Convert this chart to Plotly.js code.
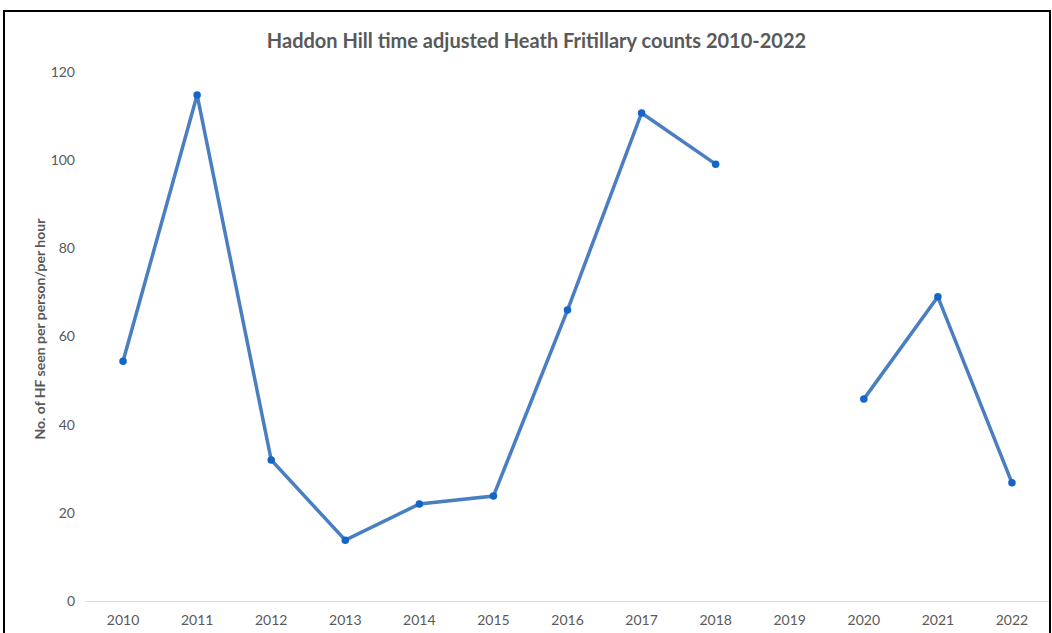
<!DOCTYPE html>
<html>
<head>
<meta charset="utf-8">
<script src="https://cdn.plot.ly/plotly-3.0.1.min.js"></script>
<style>
  html, body { margin: 0; padding: 0; background: #fff; }
  #chart { width: 1052px; height: 633px; }
  #frame { position: absolute; left: 3px; top: 10px; width: 1044px; height: 700px;
           border: 2px solid #000; border-bottom: none; pointer-events: none; }
</style>
</head>
<body>
<div id="chart"></div>
<div id="frame"></div>
<script>
const years = ["2010","2011","2012","2013","2014","2015","2016","2017","2018","2019","2020","2021","2022"];
const counts = [54.4, 114.8, 32.0, 13.8, 22.0, 23.8, 66.0, 110.7, 99.1, null, 45.8, 69.0, 26.8];
const yTicks = [0, 20, 40, 60, 80, 100, 120];
const yTitle = 'No. of HF seen per person/per hour';

const font = "Lato, 'Open Sans', sans-serif";

Plotly.newPlot('chart', [{
  x: years,
  y: counts,
  type: 'scatter',
  mode: 'lines+markers',
  connectgaps: false,
  line: { color: '#4a7ec2', width: 3.5 },
  marker: { color: '#1565c8', size: 7.5 },
  hoverinfo: 'x+y'
}], {
  width: 1052, height: 633,
  margin: { l: 86, r: 3, t: 72, b: 32 },
  paper_bgcolor: 'rgba(0,0,0,0)',
  plot_bgcolor: 'rgba(0,0,0,0)',
  showlegend: false,
  title: {
    text: 'Haddon Hill time adjusted Heath Fritillary counts 2010-2022',
    font: { family: font, size: 20, color: '#595959', weight: 'bold' },
    x: 0.51, xanchor: 'center', y: 0.935, yanchor: 'middle'
  },
  xaxis: {
    type: 'category',
    range: [-0.5, 12.5],
    tickvals: years, ticktext: years,
    showgrid: false, zeroline: false,
    showline: true, linecolor: '#d9d9d9', linewidth: 1,
    ticks: '', ticklabelstandoff: 6,
    tickfont: { family: font, size: 14, color: '#595959' }
  },
  yaxis: {
    range: [0, 120],
    tickvals: yTicks,
    showgrid: false, zeroline: false, showline: false,
    ticks: '', ticklabelstandoff: 10,
    tickfont: { family: font, size: 14, color: '#595959' }
  },
  annotations: [{
    text: yTitle,
    xref: 'paper', yref: 'paper',
    x: -0.0478, y: 0.515,
    xanchor: 'center', yanchor: 'middle',
    textangle: -90, showarrow: false,
    font: { family: font, size: 14, color: '#595959', weight: 'bold' }
  }]
}, { displayModeBar: false, staticPlot: true });
</script>
</body>
</html>
